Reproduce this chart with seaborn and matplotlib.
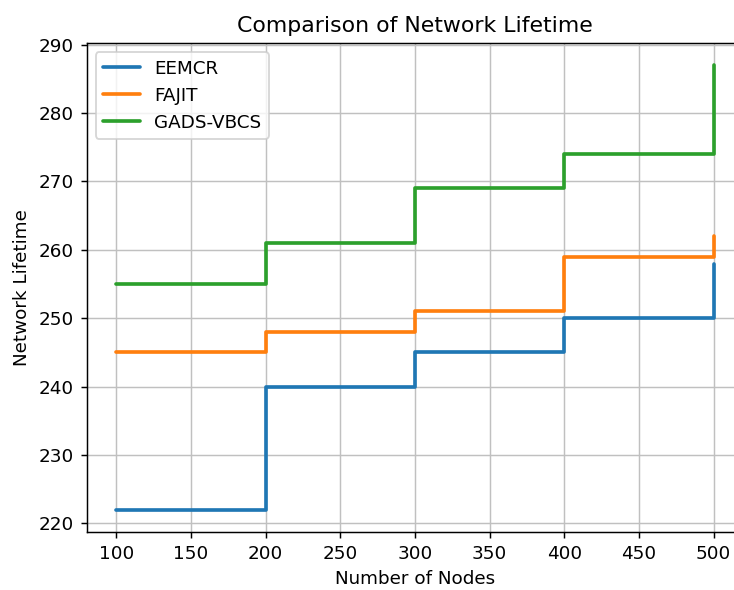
import matplotlib
matplotlib.use("Agg")
import matplotlib.pyplot as plt
import seaborn as sns
import pandas as pd

nodes = [100, 200, 300, 400, 500]
eemcr = [222, 240, 245, 250, 258]
fajit = [245, 248, 251, 259, 262]
gads = [255, 261, 269, 274, 287]

df = pd.DataFrame({
    "Number of Nodes": nodes * 3,
    "Network Lifetime": eemcr + fajit + gads,
    "Method": ["EEMCR"] * 5 + ["FAJIT"] * 5 + ["GADS-VBCS"] * 5,
})

sns.set_style("ticks")
plt.rcParams['font.family'] = ['DejaVu Sans']
plt.rcParams['text.color'] = 'black'
plt.rcParams['axes.labelcolor'] = 'black'
plt.rcParams['xtick.color'] = 'black'
plt.rcParams['ytick.color'] = 'black'
dpi = 132
fig = plt.figure(figsize=(734 / dpi, 590 / dpi), dpi=dpi)
ax = fig.add_axes([86.5 / 734, (590 - 532) / 590, 657 / 734, 489 / 590])

colors = ["#1f77b4", "#ff7f0e", "#2ca02c"]
for (name, grp), c in zip(df.groupby("Method", sort=False), colors):
    sns.lineplot(data=grp, x="Number of Nodes", y="Network Lifetime", ax=ax,
                 drawstyle="steps-post", color=c, linewidth=2, label=name)

ax.grid(True, color="#c0c0c0", linewidth=0.8)
ax.set_axisbelow(True)
ax.set_title("Comparison of Network Lifetime", fontsize=12, color="black")
ax.set_xlabel("Number of Nodes", color="black")
ax.set_ylabel("Network Lifetime", color="black")
leg = ax.legend(loc="upper left", fontsize=10)
for t in leg.get_texts():
    t.set_color("black")
for s in ax.spines.values():
    s.set_color("black")
    s.set_linewidth(0.8)
ax.spines["right"].set_visible(False)
ax.tick_params(colors="black", length=3.5, width=0.8)

fig.savefig("out.png", dpi=dpi)
